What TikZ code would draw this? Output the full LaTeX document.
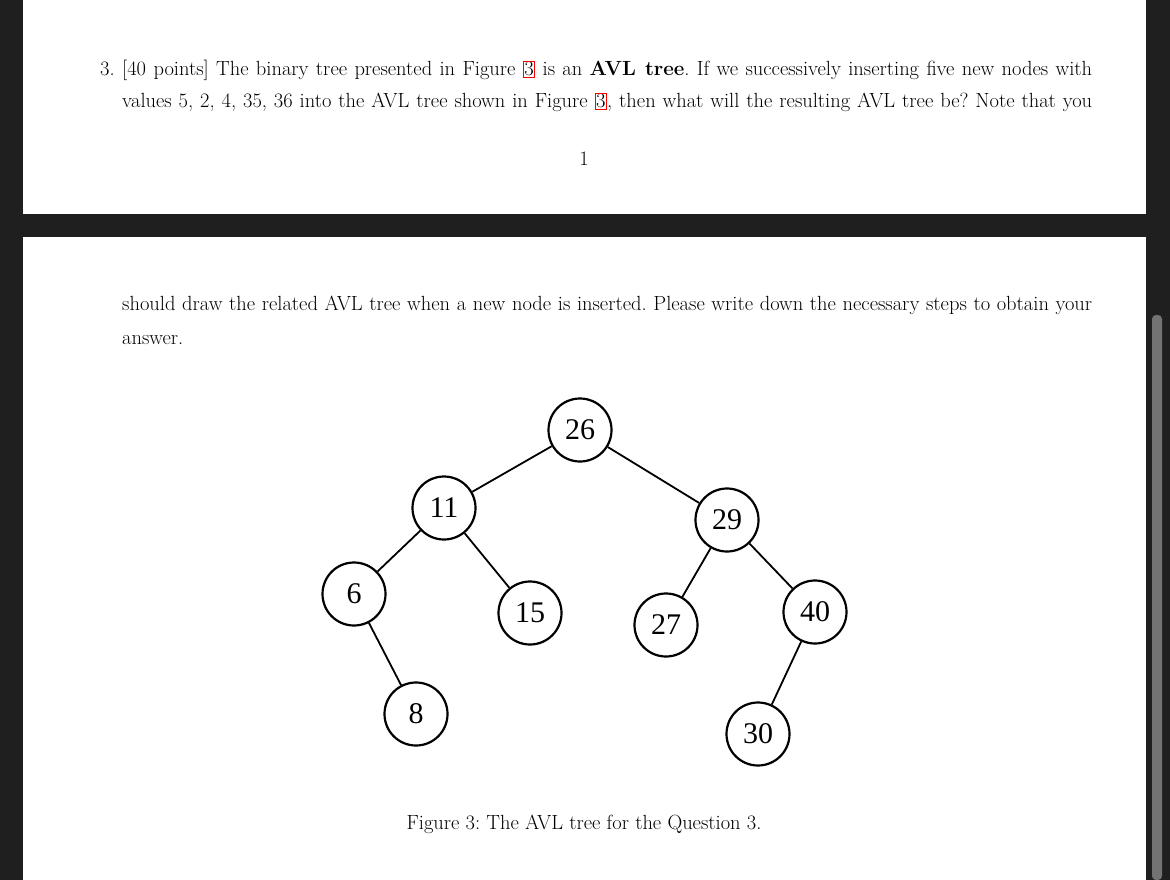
\documentclass[tikz,border=0pt]{standalone}
\usepackage{fontspec}
\newfontfamily\tnr{Liberation Serif}
\frenchspacing
\begin{document}
\begin{tikzpicture}[x=1pt,y=-1pt,
  tn/.style={circle,draw,line width=2.2pt,minimum size=63pt,inner sep=0pt,font=\tnr\fontsize{30}{30}\selectfont},
  ed/.style={line width=1.8pt},
  txt/.style={anchor=base west,inner sep=0pt,font=\fontsize{20.5}{24}\selectfont}]
\useasboundingbox (0,0) rectangle (1170,880);
\fill[black!88] (0,0) rectangle (1170,880);
\fill[white] (23,0) rectangle (1146,214);
\fill[white] (23,237) rectangle (1146,880);
\fill[black!55,rounded corners=4pt] (1152,315) rectangle (1162,880);
\newcommand\rb[1]{{\color{red}\fboxsep=0.5pt\fboxrule=1pt\fbox{\color{black}#1}}}
\node[txt] (n3) at (100,76) {3.};
\node[txt] (l1) at (122,76) {\makebox[970pt][s]{[40 points] The binary tree presented in Figure \rb{3} is an \textbf{AVL tree}. If we successively inserting five new nodes with}};
\node[txt] (l2) at (122,108) {\makebox[970pt][s]{values 5, 2, 4, 35, 36 into the AVL tree shown in Figure \rb{3}, then what will the resulting AVL tree be? Note that you}};
\node[txt,anchor=base] (pg) at (584,165) {1};
\node[txt] (l3) at (122,310) {\makebox[970pt][s]{should draw the related AVL tree when a new node is inserted. Please write down the necessary steps to obtain your}};
\node[txt] (l4) at (122,344) {answer.};
\node[txt,anchor=base] (cap) at (584,829) {Figure 3: The AVL tree for the Question 3.};
\node[tn] (a26) at (580,430) {26};
\node[tn] (a11) at (444,508) {11};
\node[tn] (a29) at (727,520) {29};
\node[tn] (a6) at (354,594) {6};
\node[tn] (a15) at (530,613) {15};
\node[tn] (a27) at (666,625) {27};
\node[tn] (a40) at (815,612) {40};
\node[tn] (a8) at (416,714) {8};
\node[tn] (a30) at (758,734) {30};
\draw[ed] (a26) -- (a11);
\draw[ed] (a26) -- (a29);
\draw[ed] (a11) -- (a6);
\draw[ed] (a11) -- (a15);
\draw[ed] (a29) -- (a27);
\draw[ed] (a29) -- (a40);
\draw[ed] (a6) -- (a8);
\draw[ed] (a40) -- (a30);
\end{tikzpicture}
\end{document}
